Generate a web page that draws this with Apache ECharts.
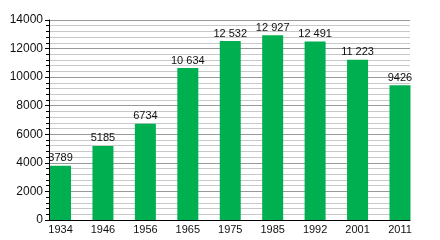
<!DOCTYPE html>
<html><head><meta charset="utf-8">
<script src="https://cdn.jsdelivr.net/npm/echarts@6/dist/echarts.min.js"></script>
<style>html,body{margin:0;padding:0;background:#fff}#c{width:440px;height:240px}</style>
</head><body><div id="c"></div>
<script>
var categories = ['1934','1946','1956','1965','1975','1985','1992','2001','2011'];
var values = [3789, 5185, 6734, 10634, 12532, 12927, 12491, 11223, 9426];
var yTicks = [0, 2000, 4000, 6000, 8000, 10000, 12000, 14000];

function fmt(v){
  if (v >= 10000) { var s = String(v); return s.slice(0, s.length-3) + ' ' + s.slice(-3); }
  return String(v);
}
var font = 'Liberation Sans, Arial, sans-serif';
var chart = echarts.init(document.getElementById('c'), null, {renderer:'canvas'});
chart.setOption({
  animation:false,
  grid:[
    {left:49, right:30, top:20, bottom:20},
    {left:39.3, right:18.8, top:20, bottom:20}
  ],
  xAxis:[
    {gridIndex:0, type:'value', min:0, max:1, axisLine:{show:true, onZero:false, lineStyle:{color:'#000', width:1}},
     axisTick:{show:false}, axisLabel:{show:false}, splitLine:{show:false}},
    {gridIndex:1, type:'category', data:categories, axisLine:{show:false}, axisTick:{show:false},
     axisLabel:{color:'#111', fontFamily:font, fontSize:11, margin:4}}
  ],
  yAxis:[
    {gridIndex:0, type:'value', min:yTicks[0], max:yTicks[yTicks.length-1], interval:2000,
     axisLine:{show:true, lineStyle:{color:'#000', width:1}},
     axisTick:{show:true, length:4, lineStyle:{color:'#000'}},
     minorTick:{show:true, splitNumber:5, length:3, lineStyle:{color:'#000'}},
     splitLine:{show:true, lineStyle:{color:'#999', width:1}},
     minorSplitLine:{show:true, lineStyle:{color:'#c8c8c8', width:1}},
     axisLabel:{color:'#111', fontFamily:font, fontSize:12, margin:6, formatter:function(v){return String(v);}}},
    {gridIndex:1, type:'value', min:yTicks[0], max:yTicks[yTicks.length-1], show:false}
  ],
  series:[{
    type:'bar', xAxisIndex:1, yAxisIndex:1, data:values, barWidth:21,
    itemStyle:{color:'#00b050'},
    label:{show:true, position:'top', distance:2, color:'#111', fontFamily:font, fontSize:11,
      formatter:function(p){return fmt(p.value);}}
  }]
});
</script></body></html>
